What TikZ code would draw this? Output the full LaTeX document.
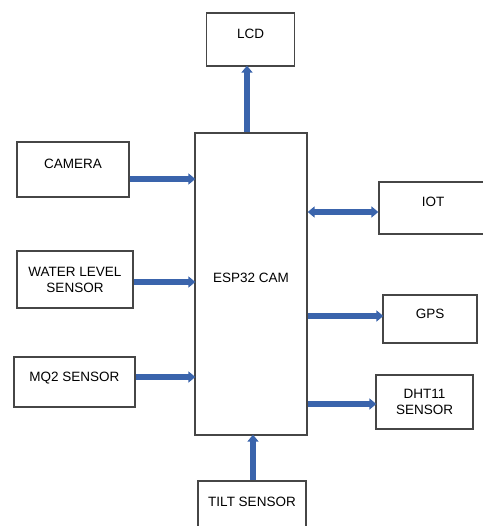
\documentclass[tikz,border=0pt]{standalone}
\usepackage{fontspec}
\setmainfont{Liberation Sans}
\usepackage{tikz}
\usetikzlibrary{arrows.meta}
\usepackage{xcolor}
\definecolor{linkblue}{RGB}{58,100,172}
\definecolor{boxgray}{RGB}{70,70,70}

\tikzset{
    block/.style={draw=boxgray, line width=1.3pt, fill=white, inner sep=0pt,
        font=\fontsize{13.5}{16}\selectfont},
    raised/.style={text height=10pt, text depth=12pt},
    link/.style={linkblue, line width=5.5pt,
        -{Triangle[length=7pt, width=11pt]}, shorten >=-1pt},
    duallink/.style={linkblue, line width=5.5pt,
        {Triangle[length=7pt, width=11pt]}-{Triangle[length=7pt, width=11pt]}}
}

\begin{document}
\begin{tikzpicture}[x=1pt, y=-1pt]
    \useasboundingbox (0,0) rectangle (482,526);

    % Controller
    \node[block, raised, minimum width=112pt, minimum height=302pt] (esp) at (251, 284) {};
    \node[font=\fontsize{13.5}{16}\selectfont] (espname) at (251, 278) {ESP32 CAM};

    % Inputs (left)
    \node[block, raised, minimum width=112pt, minimum height=55pt] (camera) at (73, 169.5) {CAMERA};
    \node[block, align=center, minimum width=116pt, minimum height=57pt] (water) at (75, 279.5) {WATER LEVEL\\SENSOR};
    \node[block, raised, minimum width=121pt, minimum height=50pt] (mq2) at (74.5, 382) {MQ2 SENSOR};
    \node[block, raised, minimum width=108pt, minimum height=52pt] (tilt) at (252, 507) {TILT SENSOR};

    % Outputs (top / right)
    \node[block, raised, minimum width=88pt, minimum height=53pt] (lcd) at (250.5, 39.5) {LCD};
    \node[block, raised, minimum width=108pt, minimum height=52pt] (iot) at (433, 208) {IOT};
    \node[block, raised, minimum width=94pt, minimum height=48pt] (gps) at (430, 319) {GPS};
    \node[block, align=center, minimum width=97pt, minimum height=54pt] (dht) at (424.5, 402) {DHT11\\SENSOR};

    % Links
    \draw[link] (camera.east |- 0,179) -- (esp.west |- 0,179);
    \draw[link] (water.east |- 0,282) -- (esp.west |- 0,282);
    \draw[link] (mq2.east |- 0,377) -- (esp.west |- 0,377);
    \draw[link] (tilt.north -| 253,0) -- (esp.south -| 253,0);
    \draw[link] (esp.north -| 247,0) -- (lcd.south -| 247,0);
    \draw[duallink] (esp.east |- 0,212) -- (iot.west |- 0,212);
    \draw[link] (esp.east |- 0,316) -- (gps.west |- 0,316);
    \draw[link] (esp.east |- 0,404) -- (dht.west |- 0,404);

\end{tikzpicture}
\end{document}
